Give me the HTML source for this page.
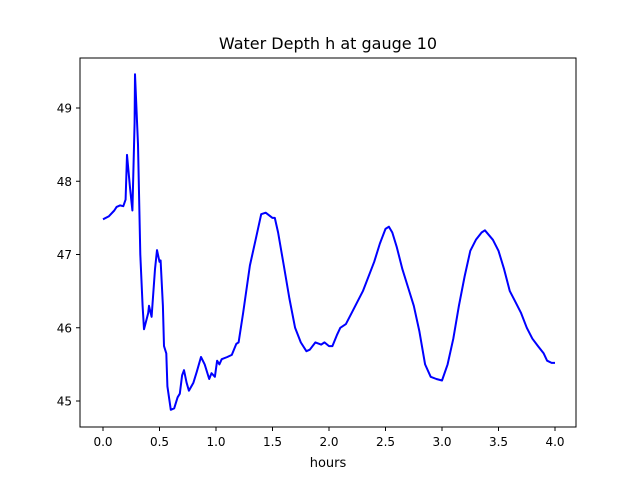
<!DOCTYPE html>
<html><head><meta charset="utf-8"><style>
body{margin:0;background:#fff;}
svg{display:block;font-family:"DejaVu Sans","Liberation Sans",sans-serif;}
</style></head><body>
<svg id="chart" width="640" height="480">
<rect width="640" height="480" fill="#fff"/>
<text x="328" y="49" font-size="16" text-anchor="middle">Water Depth h at gauge 10</text>
<g id="xt"></g>
<g id="yt"></g>
<path id="line" fill="none" stroke="#0000ff" stroke-width="2" stroke-linejoin="round"/>
<rect x="80" y="58" width="496" height="369" fill="none" stroke="#000" stroke-width="1"/>
<text x="328" y="467" font-size="13" text-anchor="middle">hours</text>
</svg>
<script>
const hours=[0,0.05,0.1,0.12,0.15,0.18,0.2,0.212,0.24,0.26,0.28,0.283,0.31,0.33,0.35,0.363,0.4,0.407,0.43,0.46,0.478,0.5,0.51,0.53,0.54,0.56,0.57,0.6,0.63,0.66,0.68,0.7,0.717,0.74,0.76,0.8,0.83,0.867,0.9,0.94,0.96,0.99,1.01,1.03,1.05,1.1,1.14,1.18,1.2,1.24,1.3,1.35,1.4,1.44,1.5,1.52,1.55,1.6,1.65,1.7,1.75,1.8,1.83,1.88,1.93,1.96,2.0,2.03,2.07,2.1,2.15,2.2,2.3,2.4,2.45,2.5,2.53,2.56,2.6,2.65,2.7,2.75,2.8,2.85,2.9,2.95,3.0,3.05,3.1,3.15,3.2,3.25,3.3,3.35,3.38,3.45,3.5,3.55,3.6,3.65,3.7,3.75,3.8,3.85,3.9,3.93,3.97,4.0];
const depth=[47.48,47.52,47.6,47.65,47.67,47.66,47.75,48.36,47.9,47.6,48.8,49.46,48.5,47.0,46.3,45.98,46.2,46.3,46.15,46.8,47.06,46.9,46.92,46.3,45.75,45.65,45.2,44.88,44.9,45.05,45.1,45.35,45.42,45.25,45.14,45.25,45.4,45.6,45.5,45.3,45.38,45.33,45.55,45.5,45.57,45.6,45.63,45.78,45.8,46.2,46.85,47.2,47.55,47.57,47.5,47.5,47.3,46.85,46.4,46.0,45.8,45.68,45.7,45.8,45.77,45.8,45.75,45.75,45.9,46.0,46.05,46.2,46.5,46.9,47.15,47.35,47.38,47.3,47.1,46.8,46.55,46.3,45.95,45.5,45.33,45.3,45.28,45.5,45.85,46.3,46.7,47.05,47.2,47.3,47.33,47.2,47.05,46.8,46.5,46.35,46.2,46.0,45.85,45.75,45.65,45.55,45.52,45.52];
const xTicks=[0,0.5,1,1.5,2,2.5,3,3.5,4];
const yTicks=[45,46,47,48,49];
const X=v=>103+v*113, Y=v=>401-(v-45)*73.25;
const NS="http://www.w3.org/2000/svg";
function mk(tag,attrs,parent,txt){const e=document.createElementNS(NS,tag);for(const k in attrs)e.setAttribute(k,attrs[k]);if(txt!==undefined)e.textContent=txt;parent.appendChild(e);return e;}
const xt=document.getElementById('xt'),yt=document.getElementById('yt');
xTicks.forEach(t=>{
 const l=mk('line',{x1:X(t),x2:X(t),y1:427,y2:431,stroke:'#000'},xt);
 
 
 const s=mk('text',{x:X(t),y:446,'font-size':12,'text-anchor':'middle'},xt,t.toFixed(1));
 
 
});
yTicks.forEach(t=>{
 const l=mk('line',{x1:76,x2:80,y1:Y(t),y2:Y(t),stroke:'#000'},yt);
 
 
 const s=mk('text',{x:72,y:Y(t)+4.5,'font-size':12,'text-anchor':'end'},yt,String(t));
 
 
});
document.getElementById('line').setAttribute('d',hours.map((h,i)=>(i?'L':'M')+X(h).toFixed(1)+','+Y(depth[i]).toFixed(1)).join(''));
</script>
</body></html>
